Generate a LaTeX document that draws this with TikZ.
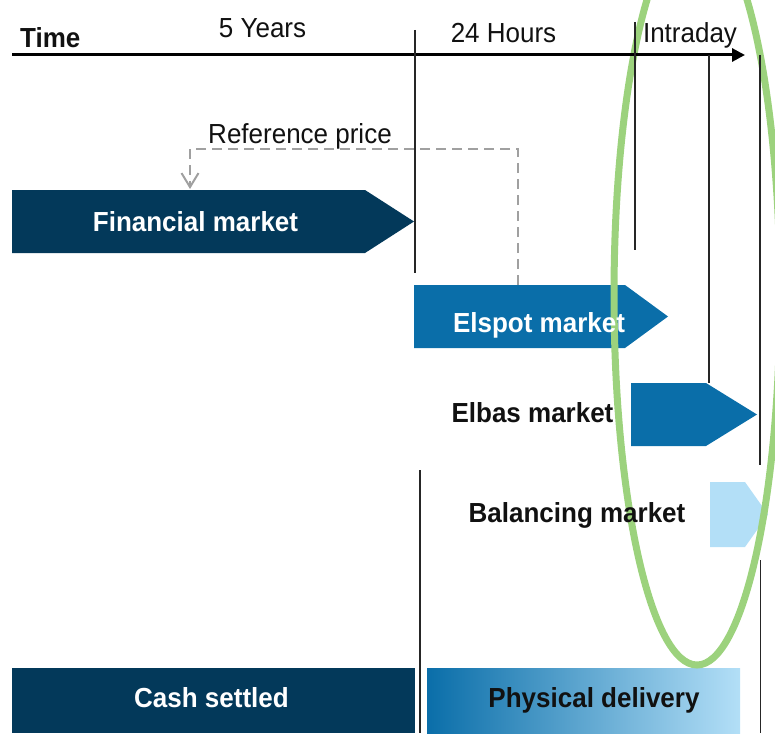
\documentclass[tikz,border=0pt]{standalone}
\usepackage{fontspec}
\setmainfont{Liberation Sans}
\usetikzlibrary{arrows.meta}
\definecolor{navy}{HTML}{03395A}
\definecolor{midblue}{HTML}{0A6EA9}
\definecolor{paleblue}{HTML}{B3DFF7}
\definecolor{ovalgreen}{HTML}{9CD27D}
\definecolor{refgray}{HTML}{A0A0A0}
\definecolor{ink}{HTML}{111111}
% labels are set slightly taller than the font's natural shape
\newcommand{\tallset}[1]{\scalebox{1}[1.06]{#1}}
\begin{document}
\begin{tikzpicture}[x=1pt,y=-1pt,
  lbl/.style={font=\fontsize{26}{30}\selectfont, text=ink, anchor=base, inner sep=0pt},
  blbl/.style={lbl, font=\fontsize{26}{30}\selectfont\bfseries},
  tick/.style={black!85, line width=1.4pt},
  refline/.style={refgray, line width=2pt, dash pattern=on 10pt off 6pt},
]
\useasboundingbox (0,0) rectangle (775,733);
\begin{scope}
\clip (0,0) rectangle (775,733);

% market blocks
\fill[navy] (12,190) -- (365,190) -- (414,221.5) -- (365,253) -- (12,253) -- cycle;
\fill[midblue] (414,285) -- (625,285) -- (668,316.5) -- (625,348) -- (414,348) -- cycle;
\fill[midblue] (631,383) -- (706,383) -- (757,414.5) -- (706,446) -- (631,446) -- cycle;
\fill[paleblue] (710,482) -- (745,482) -- (768,514.5) -- (745,547) -- (710,547) -- cycle;

% settlement bars
\fill[navy] (12,668) rectangle (415,733);
\shade[left color=midblue, right color=paleblue] (427,668) rectangle (740,733);

% intraday window
\draw[ovalgreen, line width=7pt] (697,295) ellipse [x radius=83pt, y radius=370pt];

% time axis
\coordinate (t0) at (12,55);
\coordinate (t1) at (745,55);
\draw[line width=3pt, -{Triangle[length=13pt,width=13pt]}] (t0) -- (t1);

% gate-closure ticks
\draw[tick] (415,30) -- (415,273);
\draw[tick] (420,470) -- (420,733);
\draw[tick] (635,22) -- (635,250);
\draw[tick] (709,55) -- (709,383);
\draw[tick] (760,55) -- (760,465);
\draw[tick] (760.5,560) -- (760.5,733);

% reference price link
\coordinate (refsrc) at (518,285);
\coordinate (refdst) at (190,189);
\draw[refline, -{Straight Barb[length=14pt,width=17pt]}] (refsrc) -- (518,149) -| (refdst);
\end{scope}

% labels
\node[blbl, anchor=base west] (time) at (20,48) {\tallset{Time}};
\node[lbl] (yrs) at (262.5,38) {\tallset{5 Years}};
\node[lbl] (hrs) at (503.5,43) {\tallset{24 Hours}};
\node[lbl] (intra) at (690,43) {\tallset{Intraday}};
\node[lbl] (refp) at (300,143) {\tallset{Reference price}};
\node[blbl, text=white] (fin) at (195.5,231.5) {\tallset{Financial market}};
\node[blbl, text=white] (spot) at (539,332) {\tallset{Elspot market}};
\node[blbl] (elbas) at (532.5,422.5) {\tallset{Elbas market}};
\node[blbl] (bal) at (577,522.5) {\tallset{Balancing market}};
\node[blbl, text=white] (cash) at (211.5,707) {\tallset{Cash settled}};
\node[blbl] (phys) at (594,707) {\tallset{Physical delivery}};
\end{tikzpicture}
\end{document}
